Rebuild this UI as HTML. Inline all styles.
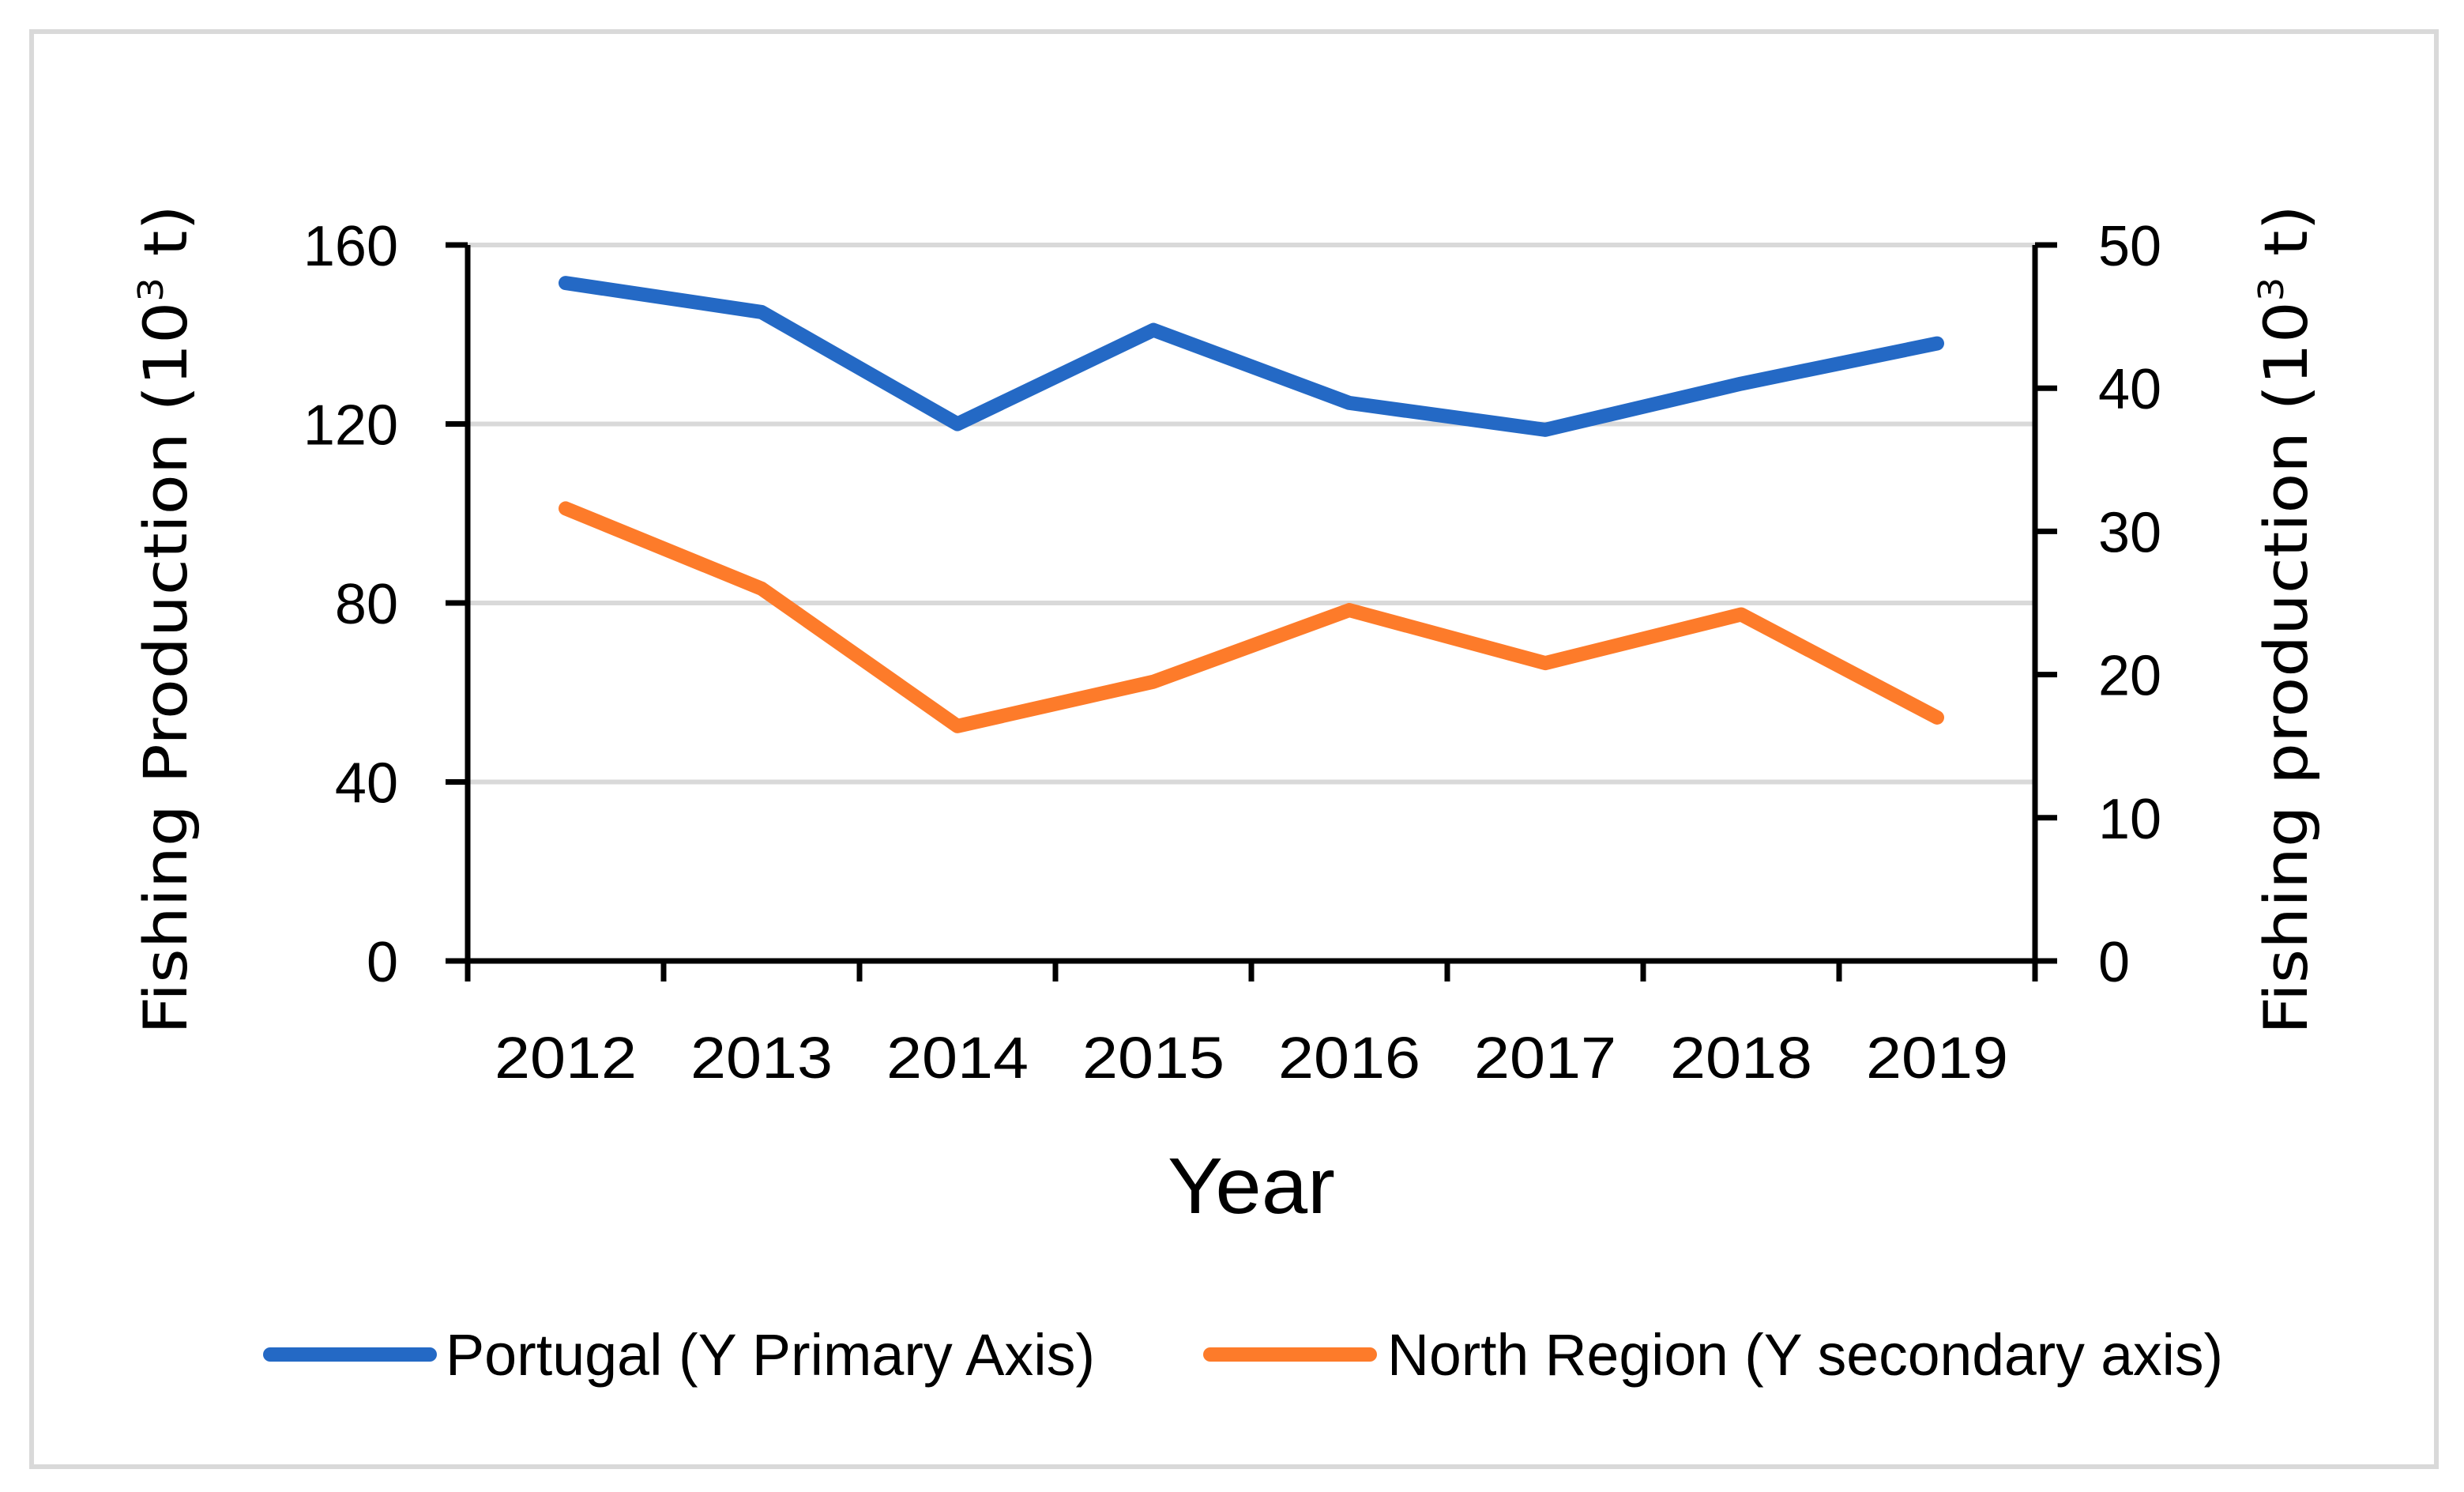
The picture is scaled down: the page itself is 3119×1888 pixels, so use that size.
<!DOCTYPE html>
<html><head><meta charset="utf-8"><style>
html,body{margin:0;padding:0;background:#fff;}
svg{display:block;}
text{font-family:"Liberation Sans",sans-serif;fill:#000;}
</style></head><body>
<svg id="chart" width="3119" height="1888" viewBox="0 0 3119 1888" xmlns="http://www.w3.org/2000/svg">
<rect x="40" y="40" width="3044" height="1816" fill="#fff" stroke="#d9d9d9" stroke-width="6"/>
<g id="grid"></g>
<g id="series"></g>
<g id="axes"></g>
<text transform="translate(236,784) rotate(-90)" text-anchor="middle" font-size="76" style="font-family:'DejaVu Sans',sans-serif" textLength="1050" lengthAdjust="spacingAndGlyphs">Fishing Production (10<tspan font-size="44" dy="-30">3</tspan><tspan dy="30"> t)</tspan></text>
<text transform="translate(2920,784) rotate(-90)" text-anchor="middle" font-size="76" style="font-family:'DejaVu Sans',sans-serif" textLength="1050" lengthAdjust="spacingAndGlyphs">Fishing production (10<tspan font-size="44" dy="-30">3</tspan><tspan dy="30"> t)</tspan></text>
<text x="1584" y="1535" text-anchor="middle" font-size="100" textLength="212" lengthAdjust="spacingAndGlyphs">Year</text>
<g>
<line x1="342" y1="1714" x2="544" y2="1714" stroke="#2469c5" stroke-width="18" stroke-linecap="round"/>
<text x="564" y="1740" font-size="74" textLength="822" lengthAdjust="spacingAndGlyphs">Portugal (Y Primary Axis)</text>
<line x1="1532" y1="1714" x2="1734" y2="1714" stroke="#fd7b2a" stroke-width="18" stroke-linecap="round"/>
<text x="1756" y="1740" font-size="74" textLength="1058" lengthAdjust="spacingAndGlyphs">North Region (Y secondary axis)</text>
</g>
</svg>
<script>
const years = ['2012','2013','2014','2015','2016','2017','2018','2019'];
const portugal = [151.5, 145, 120, 141, 124.7, 118.7, 129, 138];
const northRegion = [31.6, 26, 16.4, 19.5, 24.5, 20.8, 24.2, 17];
const leftTicks = [0, 40, 80, 120, 160];
const rightTicks = [0, 10, 20, 30, 40, 50];

const NS = 'http://www.w3.org/2000/svg';
const L = 592, R = 2576, T = 310, B = 1216;
const xScale = i => L + (R - L) / years.length * (i + 0.5);
const yLeft = v => B - (v / 160) * (B - T);
const yRight = v => B - (v / 50) * (B - T);
function mk(tag, attrs, parent) {
  const e = document.createElementNS(NS, tag);
  for (const k in attrs) e.setAttribute(k, attrs[k]);
  parent.appendChild(e);
  return e;
}
const grid = document.getElementById('grid');
const axes = document.getElementById('axes');
const series = document.getElementById('series');

leftTicks.forEach(v => {
  const y = yLeft(v);
  if (v > 0) {
    const g = mk('line', {x1: L, x2: R, y1: y, y2: y, stroke: '#d9d9d9', 'stroke-width': 6}, grid);
    
    
  }
  const t = mk('line', {x1: L - 28, x2: L, y1: y, y2: y, stroke: '#000', 'stroke-width': 7}, axes);
  
  
  const lb = mk('text', {x: 504, y: y + 26, 'text-anchor': 'end', 'font-size': 72}, axes);
  lb.textContent = v;
  
  
});
rightTicks.forEach(v => {
  const y = yRight(v);
  const t = mk('line', {x1: R, x2: R + 28, y1: y, y2: y, stroke: '#000', 'stroke-width': 7}, axes);
  
  
  const lb = mk('text', {x: 2656, y: y + 26, 'text-anchor': 'start', 'font-size': 72}, axes);
  lb.textContent = v;
  
  
});
for (let i = 0; i <= years.length; i++) {
  const x = L + (R - L) / years.length * i;
  const t = mk('line', {x1: x, x2: x, y1: B, y2: B + 26, stroke: '#000', 'stroke-width': 7}, axes);
  
  
}
years.forEach((yr, i) => {
  const lb = mk('text', {x: xScale(i), y: 1364, 'text-anchor': 'middle', 'font-size': 74, textLength: 180, lengthAdjust: 'spacingAndGlyphs'}, axes);
  lb.textContent = yr;
  
  
});
const al = mk('line', {x1: L, x2: L, y1: T, y2: B + 3, stroke: '#000', 'stroke-width': 7}, axes);


const ar = mk('line', {x1: R, x2: R, y1: T, y2: B + 3, stroke: '#000', 'stroke-width': 7}, axes);


const ab = mk('line', {x1: L - 3, x2: R + 3, y1: B, y2: B, stroke: '#000', 'stroke-width': 7}, axes);



const pl = mk('polyline', {points: portugal.map((v, i) => xScale(i) + ',' + yLeft(v)).join(' '), fill: 'none', stroke: '#2469c5', 'stroke-width': 18, 'stroke-linejoin': 'round', 'stroke-linecap': 'round'}, series);


const nl = mk('polyline', {points: northRegion.map((v, i) => xScale(i) + ',' + yRight(v)).join(' '), fill: 'none', stroke: '#fd7b2a', 'stroke-width': 18, 'stroke-linejoin': 'round', 'stroke-linecap': 'round'}, series);


</script>
</body></html>
